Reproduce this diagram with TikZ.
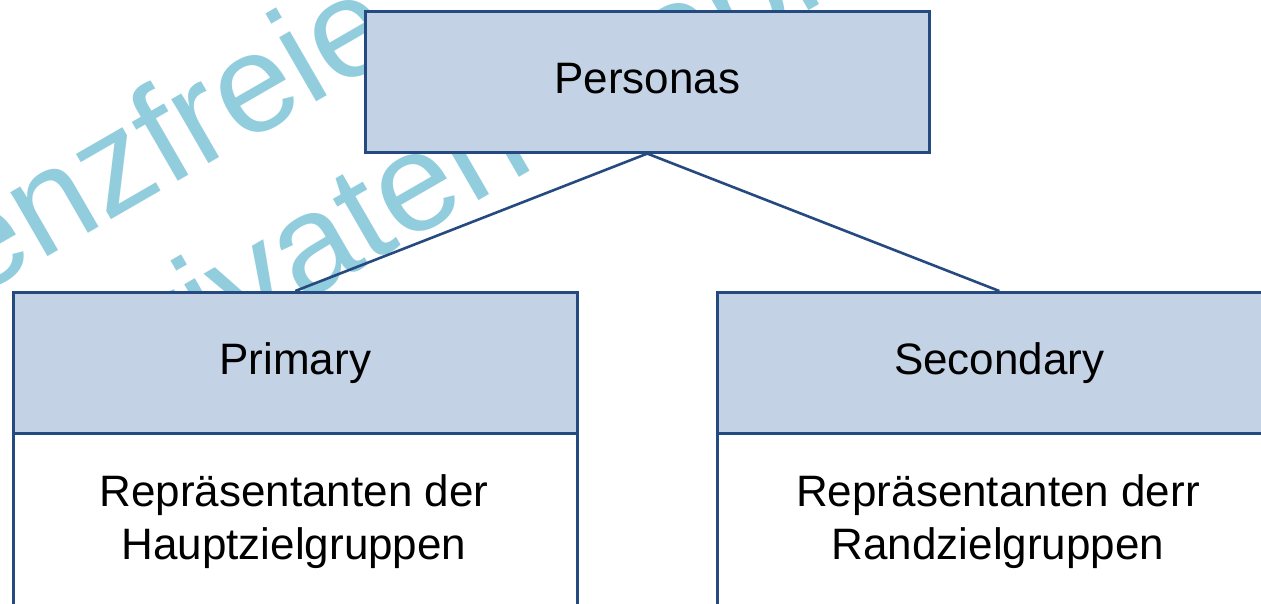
\documentclass[tikz,border=0pt]{standalone}
\usepackage{fontspec}
\setmainfont{Liberation Sans}
\definecolor{boxfill}{RGB}{195,210,228}
\definecolor{boxline}{RGB}{37,74,128}
\definecolor{wmblue}{RGB}{146,205,221}
\begin{document}
\begin{tikzpicture}[x=1pt,y=-1pt,
  wmtext/.style={text=wmblue,inner sep=0pt,anchor=base west,rotate=30,font=\fontsize{140}{168}\selectfont},
  hdrbox/.style={draw=boxline,line width=2.6pt,fill=boxfill,minimum width=564pt,minimum height=141pt,inner sep=0pt,anchor=north west,text height=32pt,text depth=9pt,font=\fontsize{44}{53}\selectfont},
  bodybox/.style={draw=boxline,line width=2.6pt,fill=white,minimum width=564pt,minimum height=200pt,inner sep=0pt,anchor=north west},
  bodytext/.style={inner sep=0pt,align=center,font=\fontsize{44}{53}\selectfont},
  conn/.style={draw=boxline,line width=2.6pt}]
\useasboundingbox (0,0) rectangle (1261,603);
\clip (0,0) rectangle (1261,603);
% watermark
\node[wmtext] (wma) at (-143,367) {lizenzfreie};
\node[wmtext] (wmb) at (106,416) {privaten Gebrauch};
% boxes
\node[hdrbox] (pers) at (364,10) {Personas};
\node[bodybox] (primbody) at (12,432) {};
\node[hdrbox] (prim) at (12,291) {Primary};
\node[bodybox] (secbody) at (716,432) {};
\node[hdrbox] (sec) at (716,291) {Secondary};
\node[bodytext] (primtext) at (294,522) {Repräsentanten der\\Hauptzielgruppen};
\node[bodytext] (sectext) at (998,522) {Repräsentanten derr\\Randzielgruppen};
% connectors
\draw[conn] (pers.south) -- (prim.north);
\draw[conn] (pers.south) -- (sec.north);
\end{tikzpicture}
\end{document}
